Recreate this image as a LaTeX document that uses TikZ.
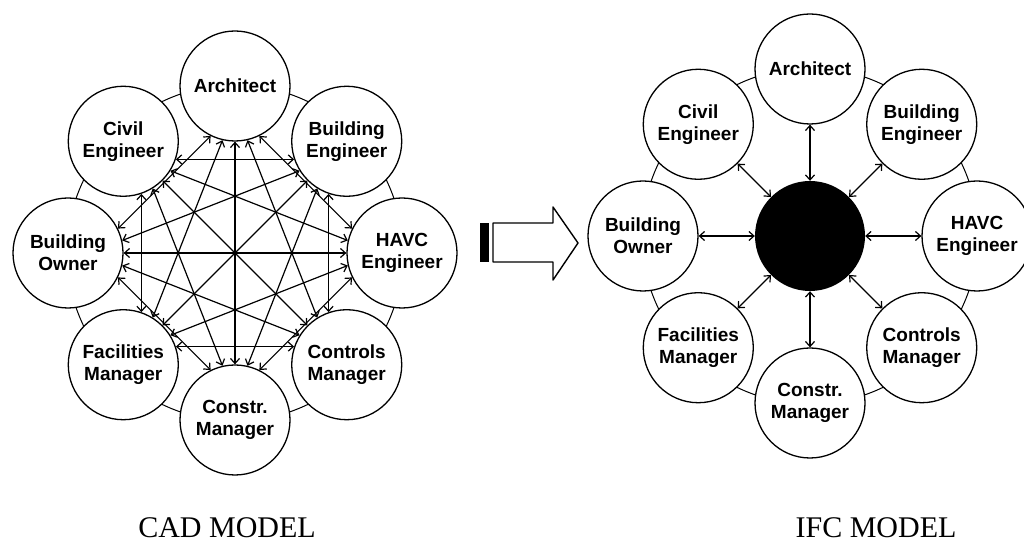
\documentclass[tikz,border=0pt]{standalone}
\usepackage{fontspec}
\setmainfont{Liberation Serif}
\setsansfont{Liberation Sans}
\usetikzlibrary{arrows.meta}
\tikzset{
  actor/.style={circle, draw, line width=1.3pt, fill=white, minimum size=110pt,
    inner sep=0pt, align=center, font=\sffamily\bfseries\fontsize{19}{22}\selectfont},
  link/.style={line width=1.2pt,
    {Straight Barb[length=5pt,width=9pt]}-{Straight Barb[length=5pt,width=9pt]}},
  ring/.style={line width=1pt},
  title/.style={font=\fontsize{30}{30}\selectfont}
}
\begin{document}
\begin{tikzpicture}[x=1pt, y=1pt, line join=round, line cap=round]
	\useasboundingbox (0,0) rectangle (1024,551);
	% CAD model
	\begin{scope}[shift={(235,298)}]
		\draw[ring] (0,0) circle (168);
		\node[actor] (cad0) at (90:167) {Architect};
		\node[actor] (cad1) at (135:158) {Civil\\Engineer};
		\node[actor] (cad2) at (180:167) {Building\\Owner};
		\node[actor] (cad3) at (225:158) {Facilities\\Manager};
		\node[actor] (cad4) at (270:167) {Constr.\\Manager};
		\node[actor] (cad5) at (315:158) {Controls\\Manager};
		\node[actor] (cad6) at (0:167) {HAVC\\Engineer};
		\node[actor] (cad7) at (45:158) {Building\\Engineer};
		\foreach \i in {0,...,7}{
			\foreach \s in {2,3,4}{
				\pgfmathtruncatemacro{\j}{mod(\i+\s,8)}
				\pgfmathtruncatemacro{\a}{mod(270+45*\i-(4-\s)*13,360)}
				\pgfmathtruncatemacro{\b}{mod(270+45*\j+(4-\s)*13,360)}
				\ifnum\s<4
					\draw[link] (cad\i.\a) -- (cad\j.\b);
				\else\ifnum\i<4
					\draw[link] (cad\i.\a) -- (cad\j.\b);
				\fi\fi
			}
		}
	\end{scope}
	% block arrow
	\fill (480,289) rectangle (489,328);
	\draw[line width=1.4pt] (493,289) -- (493,328) -- (553,328) -- (553,344)
		-- (578,308) -- (553,271) -- (553,289) -- cycle;
	% IFC model
	\begin{scope}[shift={(810,315)}]
		\draw[ring] (0,0) circle (168);
		\node[actor] (ifc0) at (90:167) {Architect};
		\node[actor] (ifc1) at (135:158) {Civil\\Engineer};
		\node[actor] (ifc2) at (180:167) {Building\\Owner};
		\node[actor] (ifc3) at (225:158) {Facilities\\Manager};
		\node[actor] (ifc4) at (270:167) {Constr.\\Manager};
		\node[actor] (ifc5) at (315:158) {Controls\\Manager};
		\node[actor] (ifc6) at (0:167) {HAVC\\Engineer};
		\node[actor] (ifc7) at (45:158) {Building\\Engineer};
		\node[circle, fill=black, minimum size=110pt, inner sep=0pt] (hub) at (0,0) {};
		\foreach \i in {0,...,7}
			\draw[link] (hub) -- (ifc\i);
	\end{scope}
	\node[title] (cad) at (227,23) {CAD MODEL};
	\node[title] (ifc) at (876,23) {IFC MODEL};
\end{tikzpicture}
\end{document}
